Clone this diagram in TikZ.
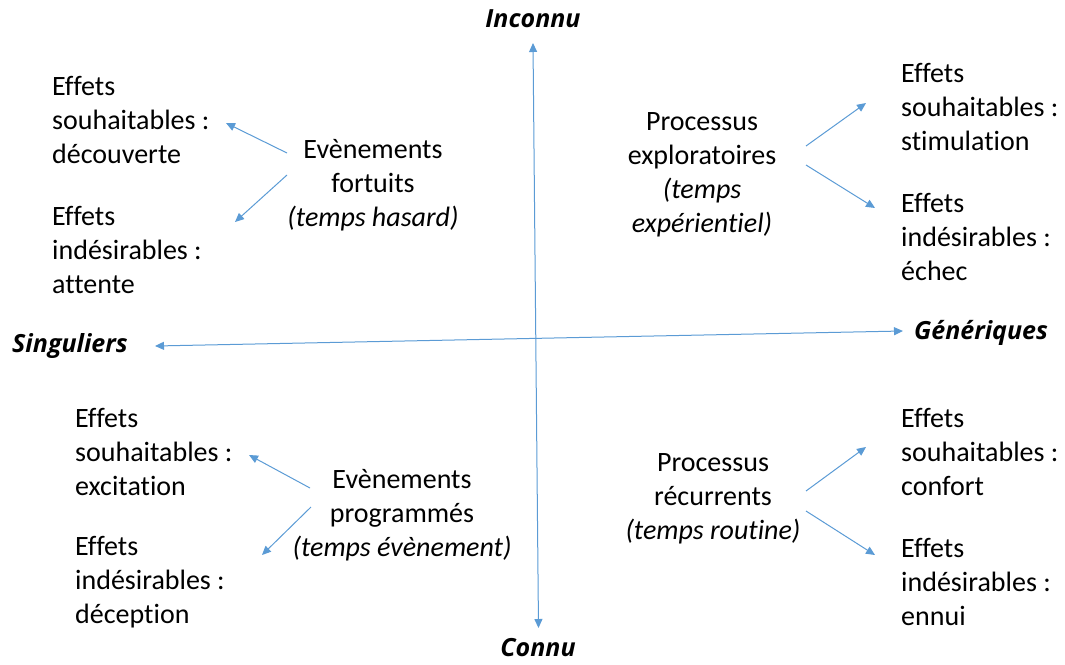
\documentclass[tikz,border=0pt]{standalone}
\usepackage{fontspec}
\setmainfont{Carlito}[Ligatures=NoCommon]
\newfontfamily\titlefont{Open Sans}
\usetikzlibrary{arrows.meta}
\definecolor{arr}{HTML}{5B9BD5}
\tikzset{
  txt/.style={font=\fontsize{28}{34}\selectfont, inner sep=0pt, align=left, anchor=west},
  ctr/.style={font=\fontsize{28}{34}\selectfont, inner sep=0pt, align=center},
  ttl/.style={font=\titlefont\bfseries\itshape\fontsize{25}{30}\selectfont, inner sep=0pt},
  conn/.style={draw=arr, line width=1pt, -{Triangle[length=9pt,width=8pt]}},
}
\begin{document}
\begin{tikzpicture}[x=1pt,y=-1pt]
\useasboundingbox (0,0) rectangle (1065,664);
% axis titles
\node[ttl] (inc) at (533,19) {Inconnu};
\node[ttl] (con) at (538,648) {Connu};
\node[ttl] (sin) at (70,346) {Singuliers};
\node[ttl] (gen) at (981,333) {Génériques};
% axes
\coordinate (vb) at (538.5,628);
\coordinate (vt) at (533,43);
\coordinate (hl) at (155,346);
\coordinate (hr) at (903,331);
\draw[conn, {Triangle[length=9pt,width=8pt]}-{Triangle[length=9pt,width=8pt]}] (vb) -- (vt);
\draw[conn, {Triangle[length=9pt,width=8pt]}-{Triangle[length=9pt,width=8pt]}] (hl) -- (hr);
% top-left
\node[txt] (tl1) at (52,120) {Effets\\souhaitables :\\découverte};
\node[txt] (tl2) at (52,250) {Effets\\indésirables :\\attente};
\node[ctr] (tlc) at (373,185) {Evènements\\fortuits\\\textit{(temps hasard)}};
\coordinate (tla) at (287,153); \coordinate (tlA) at (226,123);
\coordinate (tlb) at (287,175); \coordinate (tlB) at (235,222);
\draw[conn] (tla) -- (tlA);
\draw[conn] (tlb) -- (tlB);
% top-right
\node[ctr] (trc) at (702,175) {Processus\\exploratoires\\\textit{(temps}\\\textit{expérientiel)}};
\node[txt] (tr1) at (901,107) {Effets\\souhaitables :\\stimulation};
\node[txt] (tr2) at (901,237) {Effets\\indésirables :\\échec};
\coordinate (tra) at (806,146); \coordinate (trA) at (866,103);
\coordinate (trb) at (806,165); \coordinate (trB) at (875,208);
\draw[conn] (tra) -- (trA);
\draw[conn] (trb) -- (trB);
% bottom-left
\node[txt] (bl1) at (75,452) {Effets\\souhaitables :\\excitation};
\node[txt] (bl2) at (75,582) {Effets\\indésirables :\\déception};
\node[ctr] (blc) at (402,515) {Evènements\\programmés\\\textit{(temps évènement)}};
\coordinate (bla) at (310,488); \coordinate (blA) at (249,455);
\coordinate (blb) at (311,507); \coordinate (blB) at (262,555);
\draw[conn] (bla) -- (blA);
\draw[conn] (blb) -- (blB);
% bottom-right
\node[ctr] (brc) at (713,499) {Processus\\récurrents\\\textit{(temps routine)}};
\node[txt] (br1) at (901,452) {Effets\\souhaitables :\\confort};
\node[txt] (br2) at (901,582) {Effets\\indésirables :\\ennui};
\coordinate (bra) at (806,491); \coordinate (brA) at (866,447);
\coordinate (brb) at (806,511); \coordinate (brB) at (875,555);
\draw[conn] (bra) -- (brA);
\draw[conn] (brb) -- (brB);
\end{tikzpicture}
\end{document}
